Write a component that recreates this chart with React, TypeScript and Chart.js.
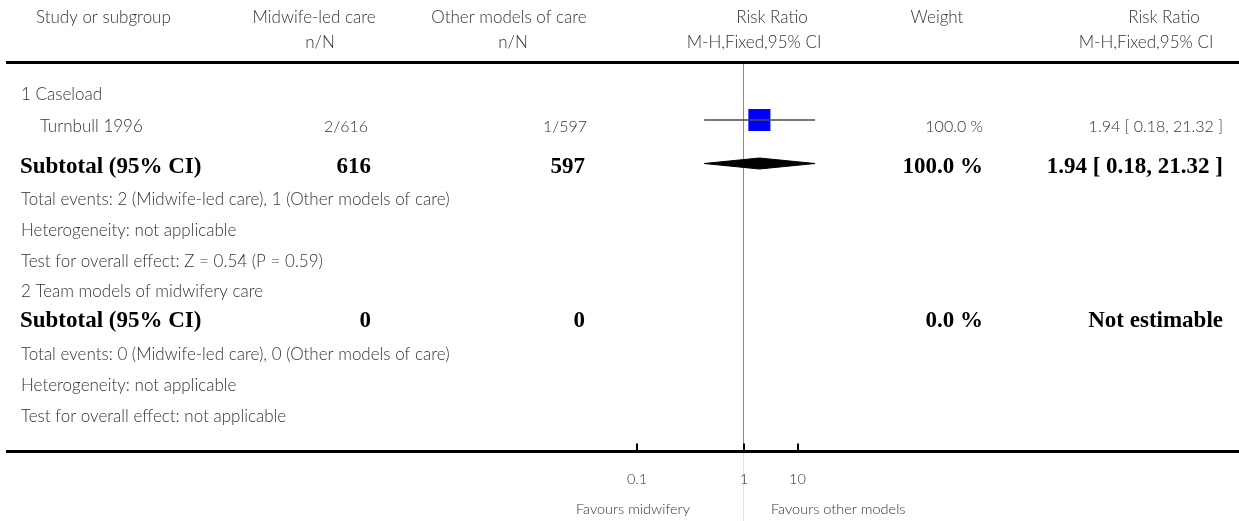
import React, { useEffect, useRef } from "react";
import { Chart, registerables } from "chart.js";

Chart.register(...registerables);

// ---------------- data ----------------
const HEADER_ROW_1 = ["Study or subgroup", "Midwife-led care", "Other models of care", "Risk Ratio", "Weight", "Risk Ratio"];
const HEADER_ROW_2 = ["n/N", "n/N", "M-H,Fixed,95% CI", "M-H,Fixed,95% CI"];

const SUBGROUP_NAMES = ["1 Caseload", "2 Team models of midwifery care"];
const GROUP_LABEL_A = "Midwife-led care";
const GROUP_LABEL_B = "Other models of care";

const STUDY_SUBGROUP = [0];
const STUDY_NAMES = ["Turnbull 1996"];
const STUDY_EVENTS_A = [2];
const STUDY_TOTAL_A = [616];
const STUDY_EVENTS_B = [1];
const STUDY_TOTAL_B = [597];
const STUDY_RR = [1.94];
const STUDY_CI_LOW = [0.18];
const STUDY_CI_HIGH = [21.32];
const STUDY_WEIGHT = [100.0];

const SUBTOTAL_N_A = [616, 0];
const SUBTOTAL_N_B = [597, 0];
const SUBTOTAL_RR: (number | null)[] = [1.94, null];
const SUBTOTAL_CI_LOW: (number | null)[] = [0.18, null];
const SUBTOTAL_CI_HIGH: (number | null)[] = [21.32, null];
const SUBTOTAL_WEIGHT = [100.0, 0.0];
const TOTAL_EVENTS_A = [2, 0];
const TOTAL_EVENTS_B = [1, 0];
const HETEROGENEITY = ["not applicable", "not applicable"];
const OVERALL_EFFECT = ["Z = 0.54 (P = 0.59)", "not applicable"];

const AXIS_TICK_VALUES = [0.01, 1, 10];
const AXIS_TICK_LABELS = ["0.1", "1", "10"];
const FAVOURS_LEFT = "Favours midwifery";
const FAVOURS_RIGHT = "Favours other models";

// ---------------- layout / style ----------------
const W = 1239;
const H = 521;
const TOP_RULE = 62.5;
const BOTTOM_RULE = 451.5;
const FIRST_ROW = 94.5;
const GAPS: Record<string, number> = {
  "header>study": 32.5,
  "study>study": 32,
  "study>subtotal": 40,
  "header>subtotal": 30,
  "subtotal>info": 33,
  "info>info": 31,
  "info>header": 29.5,
};
const SANS = "Lato";
const SERIF = "'Liberation Serif'";
const TEXT = "#333";

type Row = { kind: "header" | "study" | "subtotal" | "info"; text: string; idx: number; y: number };

function buildRows(): Row[] {
  const rows: Row[] = [];
  SUBGROUP_NAMES.forEach((name, g) => {
    rows.push({ kind: "header", text: name, idx: g, y: 0 });
    STUDY_NAMES.forEach((s, i) => {
      if (STUDY_SUBGROUP[i] === g) rows.push({ kind: "study", text: s, idx: i, y: 0 });
    });
    rows.push({ kind: "subtotal", text: "Subtotal (95% CI)", idx: g, y: 0 });
    rows.push({ kind: "info", text: `Total events: ${TOTAL_EVENTS_A[g]} (${GROUP_LABEL_A}), ${TOTAL_EVENTS_B[g]} (${GROUP_LABEL_B})`, idx: g, y: 0 });
    rows.push({ kind: "info", text: `Heterogeneity: ${HETEROGENEITY[g]}`, idx: g, y: 0 });
    rows.push({ kind: "info", text: `Test for overall effect: ${OVERALL_EFFECT[g]}`, idx: g, y: 0 });
  });
  let y = FIRST_ROW;
  rows.forEach((r, i) => {
    if (i > 0) y += GAPS[`${rows[i - 1].kind}>${r.kind}`] ?? 31;
    r.y = y - TOP_RULE; // value in y-scale units (px below top rule)
  });
  return rows;
}

const fmtCI = (rr: number, lo: number, hi: number) => `${rr.toFixed(2)} [ ${lo.toFixed(2)}, ${hi.toFixed(2)} ]`;

export default function App() {
  const ref = useRef<HTMLCanvasElement | null>(null);
  useEffect(() => {
    document.body.style.margin = "0";
    const canvas = ref.current!;
    const rows = buildRows();
    const STUDY_MARK_OFF = -7;
    const SUBTOTAL_MARK_OFF = -3.5;
    const DIAMOND_HALF = 5.5;

    const ciLine: any[] = [];
    const boxes: any[] = [];
    const centers: any[] = [];
    const diamonds: any[] = [];
    rows.forEach((r) => {
      if (r.kind === "study") {
        const i = r.idx;
        const yc = r.y + STUDY_MARK_OFF;
        ciLine.push({ x: STUDY_CI_LOW[i], y: yc }, { x: STUDY_CI_HIGH[i], y: yc }, { x: NaN, y: NaN });
        boxes.push({ x: STUDY_RR[i], y: yc });
        centers.push({ x: STUDY_RR[i], y: yc });
      }
      if (r.kind === "subtotal") {
        const g = r.idx;
        const rr = SUBTOTAL_RR[g], lo = SUBTOTAL_CI_LOW[g], hi = SUBTOTAL_CI_HIGH[g];
        if (rr != null && lo != null && hi != null) {
          const yc = r.y + SUBTOTAL_MARK_OFF;
          diamonds.push(
            { x: lo, y: yc },
            { x: rr, y: yc - DIAMOND_HALF },
            { x: hi, y: yc },
            { x: rr, y: yc + DIAMOND_HALF },
            { x: lo, y: yc },
            { x: NaN, y: NaN }
          );
        }
      }
    });

    const tablePlugin = {
      id: "forestTable",
      beforeDatasetsDraw(chart: any) {
        const { ctx, scales } = chart;
        const x1 = Math.round(scales.x.getPixelForValue(1)) - 0.5;
        ctx.save();
        ctx.lineWidth = 1;
        ctx.strokeStyle = "#8a8a8a";
        ctx.beginPath();
        ctx.moveTo(x1, TOP_RULE);
        ctx.lineTo(x1, BOTTOM_RULE);
        ctx.stroke();
        ctx.strokeStyle = "#e2e2e2";
        ctx.beginPath();
        ctx.moveTo(x1, BOTTOM_RULE);
        ctx.lineTo(x1, H);
        ctx.stroke();
        ctx.restore();
      },
      afterDraw(chart: any) {
        const { ctx, scales } = chart;
        const xs = scales.x;
        const ys = scales.y;
        ctx.save();
        // rules
        ctx.fillStyle = "#000";
        ctx.fillRect(6, TOP_RULE - 1.5, W - 6, 3);
        ctx.fillRect(6, BOTTOM_RULE - 1.5, W - 6, 3);
        // axis ticks (upward)
        AXIS_TICK_VALUES.forEach((v) => {
          const px = Math.round(xs.getPixelForValue(v));
          ctx.fillRect(px - 1, BOTTOM_RULE - 8, 2, 8);
        });

        const normal = `300 17px ${SANS}`;
        const numeric = `300 16px ${SANS}`;
        const small = `300 14.5px ${SANS}`;
        const bold = `bold 23px ${SERIF}`;
        const txt = (s: string, x: number, y: number, align: CanvasTextAlign, font: string, color = TEXT) => {
          ctx.font = font;
          ctx.fillStyle = color;
          ctx.textAlign = align;
          ctx.textBaseline = "middle";
          ctx.fillText(s, x, y);
        };
        // headers
        const h1y = 18, h2y = 42.5;
        txt(HEADER_ROW_1[0], 36, h1y, "left", normal);
        txt(HEADER_ROW_1[1], 314, h1y, "center", normal);
        txt(HEADER_ROW_1[2], 509, h1y, "center", normal);
        txt(HEADER_ROW_1[3], 772, h1y, "center", normal);
        txt(HEADER_ROW_1[4], 937, h1y, "center", normal);
        txt(HEADER_ROW_1[5], 1164, h1y, "center", normal);
        txt(HEADER_ROW_2[0], 320, h2y, "center", normal);
        txt(HEADER_ROW_2[1], 513, h2y, "center", normal);
        txt(HEADER_ROW_2[2], 754, h2y, "center", normal);
        txt(HEADER_ROW_2[3], 1146, h2y, "center", normal);

        rows.forEach((r) => {
          const y = ys.getPixelForValue(r.y);
          if (r.kind === "header" || r.kind === "info") {
            txt(r.text, 21, y, "left", normal);
          } else if (r.kind === "study") {
            const i = r.idx;
            txt(r.text, 40, y, "left", normal);
            txt(`${STUDY_EVENTS_A[i]}/${STUDY_TOTAL_A[i]}`, 368, y, "right", numeric);
            txt(`${STUDY_EVENTS_B[i]}/${STUDY_TOTAL_B[i]}`, 587, y, "right", numeric);
            txt(`${STUDY_WEIGHT[i].toFixed(1)} %`, 983, y, "right", numeric);
            txt(fmtCI(STUDY_RR[i], STUDY_CI_LOW[i], STUDY_CI_HIGH[i]), 1223, y, "right", numeric);
          } else {
            const g = r.idx;
            txt(r.text, 20, y, "left", bold, "#000");
            txt(`${SUBTOTAL_N_A[g]}`, 371, y, "right", bold, "#000");
            txt(`${SUBTOTAL_N_B[g]}`, 585, y, "right", bold, "#000");
            txt(`${SUBTOTAL_WEIGHT[g].toFixed(1)} %`, 983, y, "right", bold, "#000");
            const rr = SUBTOTAL_RR[g], lo = SUBTOTAL_CI_LOW[g], hi = SUBTOTAL_CI_HIGH[g];
            txt(rr != null && lo != null && hi != null ? fmtCI(rr, lo, hi) : "Not estimable", 1223, y, "right", bold, "#000");
          }
        });

        // axis labels
        AXIS_TICK_VALUES.forEach((v, i) => {
          txt(AXIS_TICK_LABELS[i], xs.getPixelForValue(v), 479, "center", small);
        });
        const x1 = xs.getPixelForValue(1);
        txt(FAVOURS_LEFT, x1 - 54, 509, "right", small);
        txt(FAVOURS_RIGHT, x1 + 27, 509, "left", small);
        ctx.restore();
      },
    };

    const chart = new Chart(canvas, {
      type: "scatter",
      data: {
        datasets: [
          {
            type: "line",
            data: diamonds,
            showLine: true,
            borderColor: "#000",
            backgroundColor: "#000",
            borderWidth: 1,
            pointRadius: 0,
            fill: "shape",
            spanGaps: false,
            tension: 0,
          } as any,
          {
            type: "line",
            data: ciLine,
            showLine: true,
            borderColor: "#4a4a4a",
            borderWidth: 1.5,
            pointRadius: 0,
            spanGaps: false,
            fill: false,
          } as any,
          {
            data: boxes,
            pointStyle: "rect",
            pointRadius: 15.6,
            backgroundColor: "#0000ff",
            borderWidth: 0,
          } as any,
          {
            data: centers,
            pointStyle: "line",
            rotation: 90,
            pointRadius: 2.5,
            borderColor: "#000",
            borderWidth: 1.2,
          } as any,
        ],
      },
      options: {
        animation: false,
        responsive: false,
        events: [],
        layout: { padding: { left: 637, right: W - 851, top: TOP_RULE, bottom: H - BOTTOM_RULE } },
        plugins: { legend: { display: false }, tooltip: { enabled: false }, title: { display: false } },
        scales: {
          x: { type: "logarithmic", min: 0.01, max: 100, display: false, bounds: "data" } as any,
          y: { type: "linear", min: 0, max: BOTTOM_RULE - TOP_RULE, reverse: true, display: false },
        },
      },
      plugins: [tablePlugin],
    });
    return () => chart.destroy();
  }, []);

  return (
    <div style={{ position: "fixed", left: 0, top: 0, width: W, height: H, background: "#fff" }}>
      <canvas ref={ref} width={W} height={H} style={{ width: W, height: H, display: "block" }} />
    </div>
  );
}
